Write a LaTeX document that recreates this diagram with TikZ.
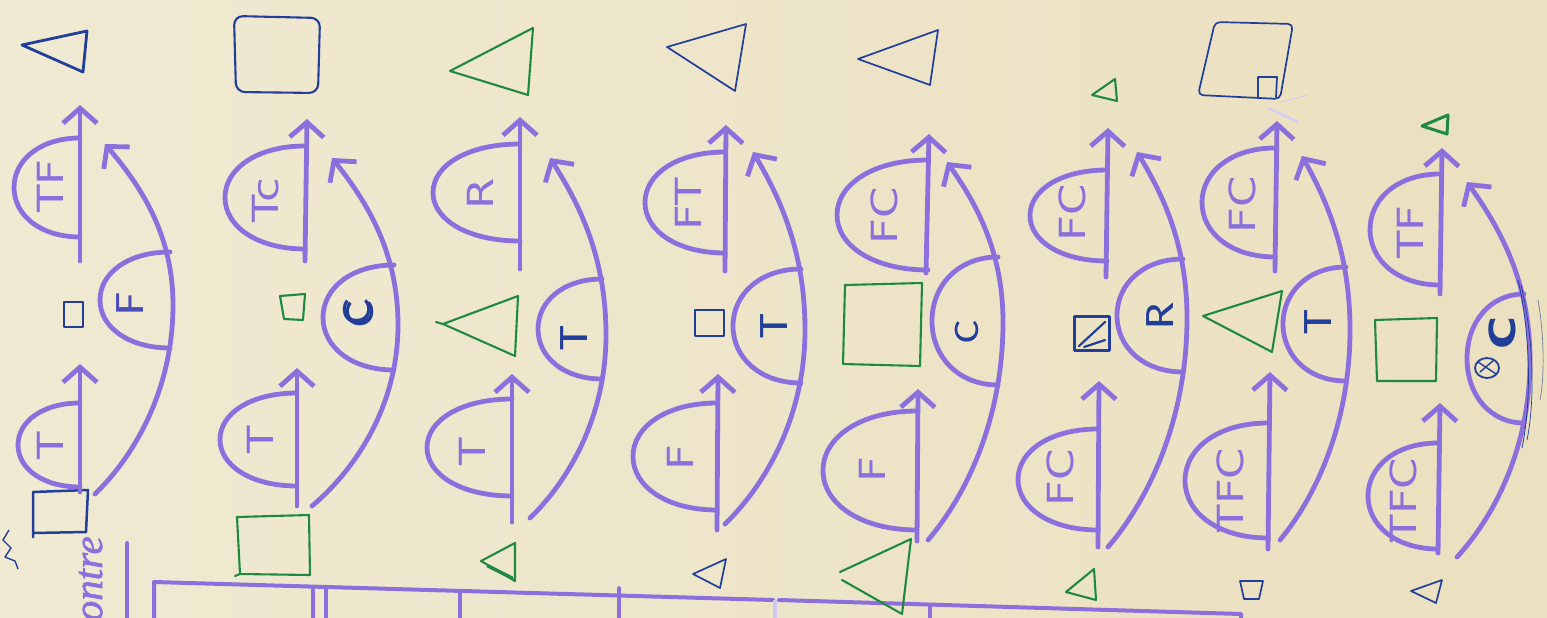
\documentclass[tikz,border=0pt]{standalone}
\usepackage{fontspec}
\newfontfamily\hand{DejaVu Sans}[FakeStretch=1.25]
\newfontfamily\penfont{Carlito}[FakeStretch=1.2]
\newfontfamily\cursivehand{Liberation Serif}[FakeBold=1.5]
\usetikzlibrary{arrows.meta}
\definecolor{paperA}{HTML}{F0EAD3}
\definecolor{paperB}{HTML}{EBE0BF}
\definecolor{crayon}{HTML}{8B70DD}
\definecolor{ink}{HTML}{213F98}
\definecolor{inkv}{HTML}{4A4CB8}
\definecolor{pengreen}{HTML}{1F8A3F}
\tikzset{
  crayonline/.style={draw=crayon, line width=4.8pt, line cap=round, line join=round},
  tipv/.style={-{Straight Barb[length=15pt,width=34pt]}},
  inkline/.style={draw=ink, line width=2.1pt, line cap=round, line join=round},
  greenline/.style={draw=pengreen, line width=2.1pt, line cap=round, line join=round},
  lab/.style={text=crayon, font=\hand\fontsize{36}{36}\selectfont, rotate=90, inner sep=0pt},
  blab/.style={text=ink, font=\penfont\fontsize{42}{42}\selectfont, rotate=90, inner sep=0pt},
  tablestroke/.style={crayonline, line width=4pt},
}
% half-disc on the left of a vertical line: x, ytop, ybot, left x
\newcommand\dome[4]{%
  \draw[crayonline] (#1,#3) .. controls ({#1-0.6*(#1-#4)},#3) and (#4,{#3-0.22*(#3-#2)}) .. (#4,{0.5*(#2+#3)})
    .. controls (#4,{#2+0.22*(#3-#2)}) and ({#1-0.6*(#1-#4)},#2) .. (#1,#2);}
% straight arrow: name, x1,y1 (start), x2,y2 (tip)
\newcommand\sarrow[5]{%
  \coordinate (#1a) at (#2,#3); \coordinate (#1b) at (#4,#5);
  \draw[crayonline,tipv] (#1a) -- (#1b);}
% big bent arrow: name, start, middle (rightmost), end
\newcommand\bigarc[7]{%
  \coordinate (#1s) at (#2,#3); \coordinate (#1m) at (#4,#5); \coordinate (#1e) at (#6,#7);
  \draw[crayonline,tipv] (#1s) .. controls ({#2+0.5*(#4-#2)},{#3-0.2*(#3-#5)}) and (#4,{#5+0.45*(#3-#5)}) .. (#1m)
    .. controls (#4,{#5-0.45*(#5-#7)}) and ({#6+0.5*(#4-#6)},{#7+0.25*(#5-#7)}) .. (#1e);}

\begin{document}
\begin{tikzpicture}[x=1pt,y=-1pt]
\useasboundingbox (0,0) rectangle (1547,618);
\shade[left color=paperA, right color=paperB] (0,0) rectangle (1547,618);
\clip (0,0) rectangle (1547,618);

% ---------- bottom-left: handwriting and table ----------
\draw[draw=ink, line width=1.4pt, line join=round] (9,530) -- (3,540) -- (11,548) -- (5,557) -- (15,561) -- (18,569);
\node[text=crayon, font=\cursivehand\itshape\fontsize{41}{41}\selectfont, rotate=90, anchor=base east, inner sep=0pt] (ontre) at (102,536) {ontre};
\draw[tablestroke] (127,543) -- (127,622);
\coordinate (tbl0) at (154,622);
\coordinate (tbl1) at (154,582);
\coordinate (tbl2) at (773,600);
\coordinate (tbl3) at (779,600);
\coordinate (tbl4) at (1241,614);
\draw[tablestroke] (tbl0) -- (tbl1) -- (tbl2);
\draw[tablestroke] (tbl3) -- (tbl4) -- (1241,622);
\foreach \xx/\yy in {313/587,326/587,460/591,619/588,930/605}
  \draw[tablestroke, line width=3.6pt] (\xx,\yy) -- (\xx,622);
\draw[draw=crayon!40, line width=3.6pt] (775,600) -- (775,622);

% ---------- column 1 ----------
\draw[inkline, line width=2.8pt] (22,45) -- (87,31) -- (83,72) -- cycle;
\draw[inkline] (64,302) rectangle (83,327);
\draw[inkline, line width=2.5pt] (33,537) -- (33,492) -- (88,490) -- (86,532) -- (33,533);
\sarrow{u1}{80}{261}{80}{105}
\sarrow{l1}{80}{492}{80}{364}
\dome{80}{138}{237}{14}
\dome{80}{403}{487}{18}
\bigarc{arc1}{95}{494}{173}{305}{105}{144}
\dome{170}{252}{348}{100}
\node[lab] (t1u) at (50,186) {TF};
\node[lab] (t1l) at (50,446) {T};
\node[blab, text=inkv] (t1r) at (130,304) {F};

% ---------- column 2 ----------
\draw[inkline, rounded corners=9pt] (234,16) -- (320,18) -- (318,93) -- (236,92) -- cycle;
\draw[greenline] (280,296) -- (305,294) -- (303,320) -- (284,319) -- cycle;
\draw[greenline] (235,576) -- (240,574) -- (237,517) -- (309,515) -- (310,575) -- (240,574);
\sarrow{u2}{305}{261}{307}{119}
\sarrow{l2}{297}{506}{297}{368}
\dome{305}{146}{249}{225}
\dome{297}{393}{486}{220}
\bigarc{arc2}{312}{506}{398}{325}{332}{158}
\dome{394}{265}{370}{323}
\node[lab] (t2u) at (266,200) {Tc};
\node[lab] (t2l) at (260,440) {T};
\node[blab] (t2r) at (357,312) {C};
\node[blab] (t2rb) at (360,314) {C};

% ---------- column 3 ----------
\draw[greenline] (450,71) -- (533,28) -- (528,95) -- cycle;
\draw[greenline] (436,322) -- (443,324) -- (518,296) -- (515,356) -- (443,324);
\draw[greenline] (481,561) -- (515,543) -- (515,581) -- cycle;
\draw[greenline, line width=3.4pt] (488,566) -- (512,578);
\sarrow{u3}{520}{269}{520}{117}
\sarrow{l3}{512}{522}{512}{374}
\dome{520}{144}{241}{433}
\dome{512}{399}{496}{427}
\bigarc{arc3}{530}{518}{606}{335}{550}{158}
\dome{602}{279}{379}{538}
\node[lab] (t3u) at (480,194) {R};
\node[lab] (t3l) at (472,452) {T};
\node[blab] (t3r) at (574,338) {T};

% ---------- column 4 ----------
\draw[inkline, line width=1.7pt] (667,47) -- (746,24) -- (735,91) -- cycle;
\draw[inkline] (695,310) rectangle (724,336);
\draw[inkline, line width=1.7pt] (693,574) -- (726,559) -- (720,588) -- cycle;
\sarrow{u4}{725}{271}{726}{125}
\sarrow{l4}{717}{530}{718}{374}
\dome{725}{152}{253}{645}
\dome{717}{403}{510}{633}
\bigarc{arc4}{725}{524}{805}{330}{753}{152}
\dome{801}{269}{383}{733}
\node[lab] (t4u) at (688,204) {FT};
\node[lab] (t4l) at (680,458) {F};
\node[blab] (t4r) at (774,326) {T};

% ---------- column 5 ----------
\draw[inkline, line width=1.7pt] (858,59) -- (938,30) -- (930,85) -- cycle;
\draw[greenline] (845,285) -- (922,283) -- (920,366) -- (843,364) -- cycle;
\draw[greenline] (840,572) -- (911,539) -- (902,614) -- (842,580);
\sarrow{u5}{926}{273}{929}{134}
\sarrow{l5}{917}{541}{918}{389}
\dome{928}{160}{270}{837}
\dome{917}{411}{530}{823}
\bigarc{arc5}{928}{540}{1003}{322}{947}{162}
\dome{998}{257}{385}{932}
\node[lab] (t5u) at (884,216) {FC};
\node[lab] (t5l) at (872,470) {F};
\node[blab, font=\penfont\fontsize{36}{36}\selectfont] (t5r) at (967,332) {C};

% ---------- column 6 ----------
\draw[greenline] (1092,95) -- (1115,79) -- (1117,101) -- cycle;
\draw[inkline, line width=3pt] (1074,316) rectangle (1109,350);
\draw[inkline, line width=2.2pt] (1079,346) -- (1105,322);
\draw[inkline, line width=2.2pt] (1084,347) -- (1105,340);
\draw[greenline] (1066,592) -- (1094,569) -- (1096,600) -- cycle;
\sarrow{u6}{1106}{277}{1108}{128}
\sarrow{l6}{1098}{547}{1099}{381}
\dome{1107}{170}{261}{1030}
\dome{1098}{429}{530}{1018}
\bigarc{arc6}{1108}{547}{1187}{318}{1137}{152}
\dome{1183}{259}{372}{1117}
\node[lab] (t6u) at (1072,213) {FC};
\node[lab] (t6l) at (1060,478) {FC};
\node[blab] (t6r) at (1160,316) {R};

% ---------- column 7 ----------
\draw[inkline, line width=1.7pt, rounded corners=5pt] (1215,22) -- (1293,24) -- (1280,99) -- (1198,95) -- cycle;
\draw[inkline, line width=1.7pt] (1258,97) -- (1258,77) -- (1277,77) -- (1276,97);
\draw[greenline] (1203,316) -- (1282,291) -- (1272,352) -- cycle;
\draw[inkline, line width=1.7pt] (1240,581) -- (1263,581) -- (1259,599) -- (1244,599) -- cycle;
\draw[draw=crayon!35, line width=2.5pt] (1268,108) -- (1298,122);
\draw[draw=crayon!35, line width=1pt] (1282,102) -- (1308,95);
\sarrow{u7}{1275}{271}{1277}{121}
\sarrow{l7}{1268}{549}{1270}{372}
\dome{1275}{148}{257}{1202}
\dome{1268}{423}{538}{1185}
\bigarc{arc7}{1280}{540}{1350}{330}{1302}{156}
\dome{1346}{267}{381}{1283}
\node[lab] (t7u) at (1242,205) {FC};
\node[lab] (t7l) at (1230,490) {TFC};
\node[blab] (t7r) at (1318,322) {T};

% ---------- column 8 ----------
\draw[greenline, line width=3pt] (1422,126) -- (1448,115) -- (1447,134) -- cycle;
\draw[greenline] (1375,320) -- (1437,318) -- (1436,381) -- (1377,381) -- cycle;
\draw[inkline, line width=1.7pt] (1411,591) -- (1442,580) -- (1436,603) -- cycle;
\sarrow{u8}{1440}{294}{1442}{148}
\sarrow{l8}{1438}{553}{1440}{403}
\dome{1440}{174}{285}{1370}
\dome{1438}{443}{549}{1368}
\bigarc{arc8}{1457}{557}{1530}{360}{1467}{182}
\dome{1524}{294}{423}{1467}
\node[lab] (t8u) at (1410,232) {TF};
\node[lab] (t8l) at (1403,500) {TFC};
\node[blab, font=\hand\bfseries\fontsize{36}{36}\selectfont] (t8r) at (1502,333) {C};
\draw[inkline, line width=1.8pt] (1487,368) ellipse [x radius=12pt, y radius=10pt];
\draw[inkline, line width=1.4pt] (1478,362) -- (1496,374) (1480,372) -- (1494,360);
\draw[draw=ink, line width=0.8pt] (1518,280) .. controls (1530,330) and (1532,400) .. (1522,448);
\draw[draw=ink, line width=0.7pt] (1521,285) .. controls (1534,340) and (1535,400) .. (1527,440);
\draw[draw=ink, opacity=0.6, line width=0.7pt] (1538,300) .. controls (1545,340) and (1544,380) .. (1540,400);
\end{tikzpicture}
\end{document}
